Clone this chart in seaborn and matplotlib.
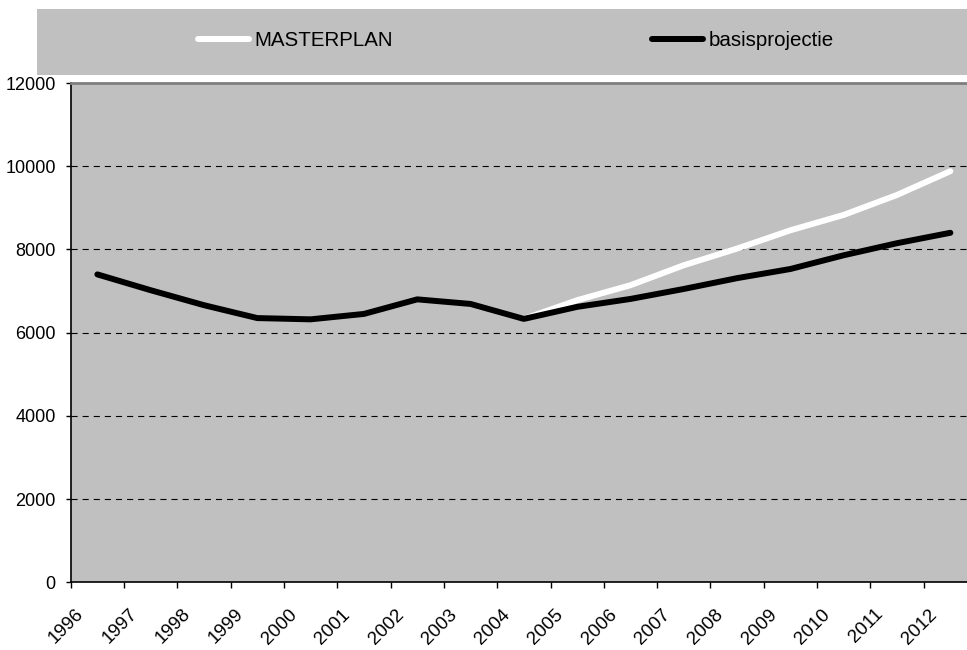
import numpy as np
import pandas as pd
import matplotlib
matplotlib.use("Agg")
import matplotlib.pyplot as plt
import seaborn as sns
from matplotlib.transforms import ScaledTranslation
from matplotlib.patches import Rectangle
from matplotlib.lines import Line2D

# Data
years = list(range(1996, 2013))
basisprojectie = [7400, 7020, 6660, 6350, 6320, 6450, 6800, 6690, 6330,
                  6620, 6810, 7050, 7310, 7530, 7860, 8150, 8400]
masterplan = [np.nan] * 8 + [6330, 6780, 7140, 7620, 8020, 8460, 8830, 9310, 9880]
y_ticks = [0, 2000, 4000, 6000, 8000, 10000, 12000]
series_names = ["MASTERPLAN", "basisprojectie"]
series_colors = ["white", "black"]

sns.set_theme(style="white")
plt.rcParams["font.family"] = ["Liberation Sans", "DejaVu Sans"]

W, H = 967, 650
fig = plt.figure(figsize=(W / 100, H / 100), dpi=100)
fig.patch.set_facecolor("white")

# Plot area (extends slightly past the right edge of the figure)
x0, x1, y_top, y_bot = 70.7, 977.0, 83.0, 582.3
ax = fig.add_axes([x0 / W, (H - y_bot) / H, (x1 - x0) / W, (y_bot - y_top) / H])
ax.set_facecolor("#C0C0C0")

df = pd.DataFrame({"year": years,
                   "MASTERPLAN": masterplan,
                   "basisprojectie": basisprojectie})

lw = 4.3
sns.lineplot(data=df, x="year", y="MASTERPLAN", ax=ax, color=series_colors[0],
             lw=lw, solid_capstyle="round", solid_joinstyle="round", legend=False)
sns.lineplot(data=df, x="year", y="basisprojectie", ax=ax, color=series_colors[1],
             lw=lw, solid_capstyle="round", solid_joinstyle="round", legend=False)

ax.set_xlim(years[0] - 0.5, years[-1] + 0.5)
ax.set_ylim(0, 12000)
ax.set_xlabel("")
ax.set_ylabel("")

# Y axis
ax.set_yticks(y_ticks)
ax.set_yticklabels([str(v) for v in y_ticks])
ax.tick_params(axis="y", which="major", direction="out", length=3.6, width=1,
               color="black", pad=7.2, labelsize=13, labelcolor="black", left=True)
ax.yaxis.grid(True, color="black", lw=0.8, linestyle=(0, (5.5, 4.5)))
ax.set_axisbelow(True)

# X axis: labels at category centers, tick marks at category boundaries
ax.set_xticks(years)
ax.set_xticklabels([str(y) for y in years])
ax.set_xticks(np.arange(years[0] - 0.5, years[-1] + 1.0, 1.0), minor=True)
ax.tick_params(axis="x", which="major", length=0, pad=23.5, labelsize=13.5,
               labelcolor="black", bottom=True)
ax.tick_params(axis="x", which="minor", direction="out", length=4.3, width=1,
               color="black", bottom=True)
offset = ScaledTranslation(-13 / 100, 0, fig.dpi_scale_trans)
for lbl in ax.get_xticklabels():
    lbl.set_rotation(45)
    lbl.set_ha("right")
    lbl.set_va("baseline")
    lbl.set_rotation_mode("anchor")
    lbl.set_transform(lbl.get_transform() + offset)

# Spines
for side in ["left", "bottom"]:
    ax.spines[side].set_color("black")
    ax.spines[side].set_linewidth(1.2)
ax.spines["top"].set_color("#7f7f7f")
ax.spines["top"].set_linewidth(2)
ax.spines["right"].set_visible(False)

# Legend band
fig.patches.append(Rectangle((37 / W, 1 - 75 / H), 1 - 37 / W, 66 / H,
                             transform=fig.transFigure, facecolor="#C0C0C0",
                             edgecolor="none", zorder=0))
handles = [Line2D([], [], color=c, lw=lw, solid_capstyle="round") for c in series_colors]
fig.legend(handles, series_names, loc="center left",
           bbox_to_anchor=(198 / W, 1 - 41 / H), bbox_transform=fig.transFigure,
           ncol=2, frameon=False, fontsize=14.8, handlelength=2.5,
           handletextpad=0.25, columnspacing=12.6, borderpad=0, borderaxespad=0,
           labelcolor="black")

fig.savefig("out.png", dpi=100, facecolor="white")
